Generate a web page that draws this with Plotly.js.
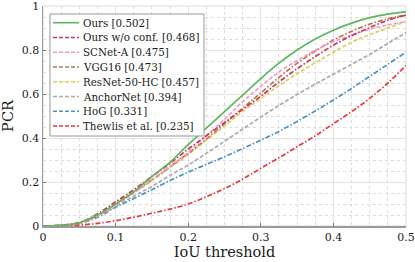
<!DOCTYPE html>
<html>
<head>
<meta charset="utf-8">
<script src="https://cdn.plot.ly/plotly-3.0.1.min.js"></script>
<style>html,body{margin:0;padding:0;background:#fff;}#chart{width:415px;height:262px;}</style>
</head>
<body>
<div id="chart"></div>
<script>
var iou = [0,0.025,0.05,0.075,0.1,0.125,0.15,0.175,0.2,0.225,0.25,0.275,0.3,0.325,0.35,0.375,0.4,0.425,0.45,0.475,0.5];

var ours        = [0,0.003,0.015,0.05,0.1,0.155,0.225,0.29,0.37,0.445,0.52,0.595,0.67,0.74,0.80,0.85,0.89,0.922,0.947,0.963,0.973];
var oursNoConf  = [0,0.004,0.016,0.055,0.11,0.165,0.225,0.285,0.35,0.41,0.47,0.53,0.59,0.655,0.715,0.77,0.822,0.865,0.902,0.935,0.959];
var scnetA      = [0,0.003,0.013,0.045,0.095,0.15,0.21,0.27,0.335,0.41,0.485,0.565,0.635,0.70,0.752,0.798,0.838,0.868,0.894,0.914,0.929];
var vgg16       = [0,0.003,0.013,0.045,0.10,0.155,0.21,0.27,0.33,0.395,0.465,0.535,0.605,0.675,0.74,0.795,0.845,0.885,0.918,0.942,0.959];
var resnet50hc  = [0,0.003,0.013,0.045,0.095,0.15,0.205,0.265,0.325,0.39,0.455,0.52,0.58,0.638,0.692,0.742,0.79,0.835,0.87,0.90,0.929];
var anchorNet   = [0,0.002,0.012,0.045,0.09,0.135,0.18,0.23,0.277,0.33,0.385,0.44,0.495,0.548,0.598,0.645,0.69,0.735,0.78,0.83,0.879];
var hog         = [0,0.002,0.012,0.04,0.085,0.125,0.165,0.207,0.245,0.28,0.315,0.352,0.39,0.43,0.475,0.523,0.573,0.625,0.68,0.735,0.79];
var thewlis     = [0,0.001,0.004,0.012,0.024,0.04,0.058,0.077,0.10,0.133,0.17,0.213,0.262,0.31,0.36,0.41,0.465,0.52,0.58,0.65,0.73];

var seriesNames = ["Ours [0.502]","Ours w/o conf. [0.468]","SCNet-A [0.475]","VGG16 [0.473]","ResNet-50-HC [0.457]","AnchorNet [0.394]","HoG [0.331]","Thewlis et al. [0.235]"];
var seriesData = [ours, oursNoConf, scnetA, vgg16, resnet50hc, anchorNet, hog, thewlis];
var seriesColors = ["#5cb85c","#c8385a","#f79ac8","#b8784f","#dcd060","#aaaaaa","#4a90c8","#e8393a"];
var seriesDash = ["solid","5px,2px,1.5px,2px","4px,2px","5px,2px,1.5px,2px","4px,2px","4px,2px","5px,2px,1.5px,2px","5px,2px,1.5px,2px"];

var xTicks = [0,0.1,0.2,0.3,0.4,0.5];
var xTickText = ["0","0.1","0.2","0.3","0.4","0.5"];
var yTicks = [0,0.2,0.4,0.6,0.8,1];
var yTickText = ["0","0.2","0.4","0.6","0.8","1"];

var FONT = "DejaVu Serif, Liberation Serif, serif";
var W = 415, H = 262, ML = 43, MR = 9, MT = 6, MB = 36;
var PW = W - ML - MR, PH = H - MT - MB;
function px2x(p){ return (p - ML) / PW; }
function py2y(p){ return (H - MB - p) / PH; }

var traces = [];
for (var i = seriesData.length - 1; i >= 0; i--) {
  traces.push({
    x: iou, y: seriesData[i], type: 'scatter', mode: 'lines',
    name: seriesNames[i], showlegend: false,
    line: {color: seriesColors[i], width: 1.7, dash: seriesDash[i], shape: 'spline', smoothing: 1},
    hoverinfo: 'skip'
  });
}

var shapes = [];
var annotations = [];
var lgL = 50, lgT = 14, lgR = 204, lgB = 136;
shapes.push({type:'rect', xref:'paper', yref:'paper', x0:px2x(lgL), x1:px2x(lgR), y0:py2y(lgB), y1:py2y(lgT),
  line:{color:'#999999', width:1}, fillcolor:'#ffffff', layer:'above'});
for (var k = 0; k < seriesNames.length; k++) {
  var ry = 22.7 + k * 14.76;
  shapes.push({type:'line', xref:'paper', yref:'paper', x0:px2x(53), x1:px2x(79), y0:py2y(ry), y1:py2y(ry),
    line:{color:seriesColors[k], width:1.6, dash: (k === 0 ? 'solid' : '4px,2px')}, layer:'above'});
  annotations.push({xref:'paper', yref:'paper', x:px2x(81), y:py2y(ry), xanchor:'left', yanchor:'middle',
    text: seriesNames[k], showarrow:false, font:{family:FONT, size:10.3, color:'#1a1a1a'}});
}
shapes.push({type:'rect', xref:'paper', yref:'paper', x0:0, x1:1, y0:0, y1:1, line:{color:'#dddddd', width:1}, layer:'below'});

var layout = {
  width: W, height: H,
  margin: {l: ML, r: MR, t: MT, b: MB, pad: 0},
  paper_bgcolor: '#ffffff', plot_bgcolor: '#ffffff',
  showlegend: false,
  font: {family: FONT, size: 12, color: '#111'},
  xaxis: {
    range: [0, 0.5], tickvals: xTicks, ticktext: xTickText, ticklabeloverflow: 'allow',
    showline: true, linecolor: '#9a9a9a', linewidth: 1.5,
    ticks: 'inside', ticklen: 3, tickcolor: '#777', tickwidth: 1,
    showgrid: true, gridcolor: '#e4e4e4', gridwidth: 1, zeroline: false,
    minor: {dtick: 0.025, tick0: 0, showgrid: true, gridcolor: '#dcdcdc', griddash: 'dot', gridwidth: 1, ticks: ''},
    tickfont: {family: FONT, size: 11, color: '#1a1a1a'},
    title: {text: 'IoU threshold', font: {family: FONT, size: 14.5, color: '#1a1a1a'}, standoff: 2}
  },
  yaxis: {
    range: [0, 1], tickvals: yTicks, ticktext: yTickText, ticklabeloverflow: 'allow',
    showline: true, linecolor: '#9a9a9a', linewidth: 1.5,
    ticks: 'inside', ticklen: 3, tickcolor: '#777', tickwidth: 1,
    showgrid: true, gridcolor: '#e4e4e4', gridwidth: 1, zeroline: false,
    minor: {dtick: 0.05, tick0: 0, showgrid: true, gridcolor: '#dcdcdc', griddash: 'dot', gridwidth: 1, ticks: ''},
    tickfont: {family: FONT, size: 11, color: '#1a1a1a'},
    title: {text: 'PCR', font: {family: FONT, size: 14.5, color: '#1a1a1a'}, standoff: 6}
  },
  shapes: shapes,
  annotations: annotations
};

Plotly.newPlot('chart', traces, layout, {staticPlot: true, displayModeBar: false});
</script>
</body>
</html>
